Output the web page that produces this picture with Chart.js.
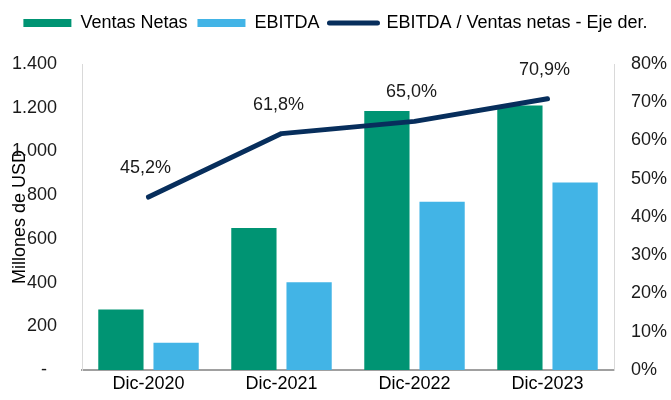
<!DOCTYPE html>
<html lang="es">
  <head>
    <meta charset="utf-8" />
    <title>Ventas Netas y EBITDA</title>
    <script src="https://cdn.jsdelivr.net/npm/chart.js@4.4.9/dist/chart.umd.min.js"></script>
  </head>
  <body style="margin: 0; padding: 0; background: #fff">
    <div style="width: 671px; height: 400px">
      <canvas id="myChart"></canvas>
    </div>
    <script>
      const categories = ["Dic-2020", "Dic-2021", "Dic-2022", "Dic-2023"];
      const ventasNetas = [277, 650, 1185, 1210];
      const ebitda = [125, 402, 770, 858];
      const margen = [45.2, 61.8, 65.0, 70.9];

      const GREEN = "#009473";
      const BLUE = "#42B4E6";
      const NAVY = "#072E5C";
      const FONT = "'Liberation Sans', Arial, sans-serif";

      Chart.defaults.font.family = FONT;
      Chart.defaults.font.size = 18;
      Chart.defaults.color = "#1a1a1a";

      const fmtThousands = (v) =>
        v === 0 ? "-  " : String(v).replace(/\B(?=(\d{3})+(?!\d))/g, ".");

      // labels above the line points, e.g. "45,2%"
      const lineLabels = {
        id: "line_labels",
        afterDatasetsDraw(chart) {
          const { ctx } = chart;
          const meta = chart.getDatasetMeta(2);
          ctx.save();
          ctx.font = `18px ${FONT}`;
          ctx.fillStyle = "#1a1a1a";
          ctx.textAlign = "center";
          ctx.textBaseline = "middle";
          meta.data.forEach((pt, i) => {
            const txt = margen[i].toFixed(1).replace(".", ",") + "%";
            ctx.fillText(txt, pt.x - 3, pt.y - 29);
          });
          ctx.restore();
        },
      };

      // extra room between the legend and the plot
      const legendGap = {
        id: "legend_gap",
        beforeInit(chart) {
          const fit = chart.legend.fit;
          chart.legend.fit = function () {
            fit.call(this);
            this.height += 22;
          };
        },
      };

      new Chart(document.getElementById("myChart"), {
        type: "bar",
        data: {
          labels: categories,
          datasets: [
            {
              label: "Ventas Netas",
              data: ventasNetas,
              backgroundColor: GREEN,
              yAxisID: "y",
              order: 1,
              categoryPercentage: 0.83,
              barPercentage: 0.82,
            },
            {
              label: "EBITDA",
              data: ebitda,
              backgroundColor: BLUE,
              yAxisID: "y",
              order: 1,
              categoryPercentage: 0.83,
              barPercentage: 0.82,
            },
            {
              type: "line",
              label: "EBITDA / Ventas netas - Eje der.",
              data: margen,
              borderColor: NAVY,
              backgroundColor: NAVY,
              borderWidth: 5,
              borderCapStyle: "round",
              borderJoinStyle: "round",
              pointRadius: 0,
              tension: 0,
              yAxisID: "y1",
              order: 0,
            },
          ],
        },
        plugins: [lineLabels, legendGap],
        options: {
          responsive: true,
          maintainAspectRatio: false,
          animation: false,
          layout: { padding: { top: 4, left: 0, right: 0, bottom: 0 } },
          plugins: {
            tooltip: { enabled: false },
            legend: {
              position: "top",
              labels: {
                usePointStyle: true,
                pointStyleWidth: 48,
                boxHeight: 8,
                padding: 10,
                color: "#000",
                font: { size: 18 },
                generateLabels(chart) {
                  return chart.data.datasets.map((ds, i) => ({
                    text: ds.label,
                    datasetIndex: i,
                    fillStyle: ds.backgroundColor,
                    strokeStyle: ds.type === "line" ? NAVY : ds.backgroundColor,
                    lineWidth: ds.type === "line" ? 5 : 0,
                    lineCap: "round",
                    pointStyle: ds.type === "line" ? "line" : "rect",
                    fontColor: "#000",
                  }));
                },
              },
            },
          },
          scales: {
            x: {
              grid: { display: false, drawTicks: false },
              border: { color: "#a0a0a0", width: 2 },
              ticks: { padding: 3, color: "#000" },
              afterFit(scale) {
                scale.height = 30;
              },
            },
            y: {
              position: "left",
              min: 0,
              max: 1400,
              grid: { display: false, drawTicks: false },
              border: { color: "#d9d9d9", width: 1 },
              ticks: { stepSize: 200, padding: 25, callback: fmtThousands },
              title: {
                display: true,
                text: "Millones de USD",
                font: { size: 18 },
                color: "#000",
                padding: { top: 9, bottom: 0 },
              },
              afterFit(scale) {
                scale.width = 82;
                scale.paddingTop = 0;
                scale.paddingBottom = 0;
              },
            },
            y1: {
              position: "right",
              min: 0,
              max: 80,
              grid: { display: false, drawTicks: false },
              border: { color: "#d9d9d9", width: 1 },
              ticks: { stepSize: 10, padding: 17, callback: (v) => v + "%" },
              afterFit(scale) {
                scale.width = 57;
                scale.paddingTop = 0;
                scale.paddingBottom = 0;
              },
            },
          },
        },
      });
    </script>
  </body>
</html>
